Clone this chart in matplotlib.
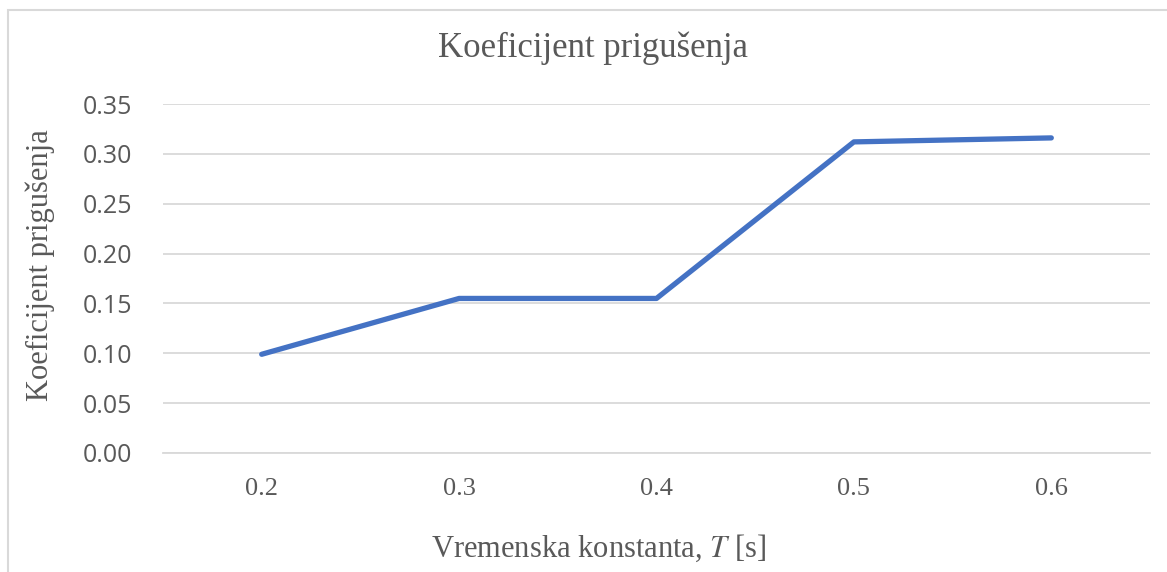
import matplotlib

matplotlib.use("Agg")
import matplotlib.pyplot as plt
from matplotlib.patches import Rectangle

# time constant T [s] and the damping ratio measured for each
time_constants = ["0.2", "0.3", "0.4", "0.5", "0.6"]
damping = [0.099, 0.155, 0.155, 0.312, 0.316]
y_ticks = [0.00, 0.05, 0.10, 0.15, 0.20, 0.25, 0.30, 0.35]

W, H = 1167, 572
fig = plt.figure(figsize=(W / 100, H / 100), dpi=100)

# chart frame, runs off the right and bottom edges
fig.patches.append(Rectangle((7.5 / W, -0.1), 1.2, 1 - 9.5 / H + 0.1,
                             transform=fig.transFigure, fill=False,
                             edgecolor="#d9d9d9", linewidth=1.5))

ax = fig.add_axes([163 / W, 1 - 453 / H, 987 / W, 349 / H])
x = list(range(len(time_constants)))
ax.plot(x, damping, color="#4472c4", linewidth=3.8, solid_capstyle="round",
        solid_joinstyle="round")

ax.set_xlim(-0.5, len(time_constants) - 0.5)
ax.set_ylim(0, 0.35)
ax.set_yticks(y_ticks)
ax.set_yticklabels([f"{v:.2f}" for v in y_ticks], family="Open Sans",
                   fontsize=18, color="#595959")
ax.set_xticks(x)
ax.set_xticklabels(time_constants, family="Liberation Serif", fontsize=19,
                   color="#595959")
ax.tick_params(length=0)
ax.tick_params(axis="y", pad=22)
ax.tick_params(axis="x", pad=18)
ax.grid(axis="y", color="#d9d9d9", linewidth=1.3)
ax.set_axisbelow(True)
for side in ["top", "right", "left"]:
    ax.spines[side].set_visible(False)
ax.spines["bottom"].set_color("#d9d9d9")
ax.spines["bottom"].set_linewidth(1.3)

fig.text(593 / W, 1 - 48 / H, "Koeficijent prigušenja", ha="center",
         va="center", family="Liberation Serif", fontsize=25, color="#595959")
fig.text(40 / W, 1 - 265 / H, "Koeficijent prigušenja", ha="center",
         va="center", rotation=90, family="Liberation Serif", fontsize=22,
         color="#595959")
fig.text(599 / W, 1 - 548 / H, r"Vremenska konstanta, $\mathit{T}$ [s]",
         ha="center", va="center", family="Liberation Serif", fontsize=22,
         color="#595959", math_fontfamily="stix")

fig.savefig("out.png", dpi=100)
